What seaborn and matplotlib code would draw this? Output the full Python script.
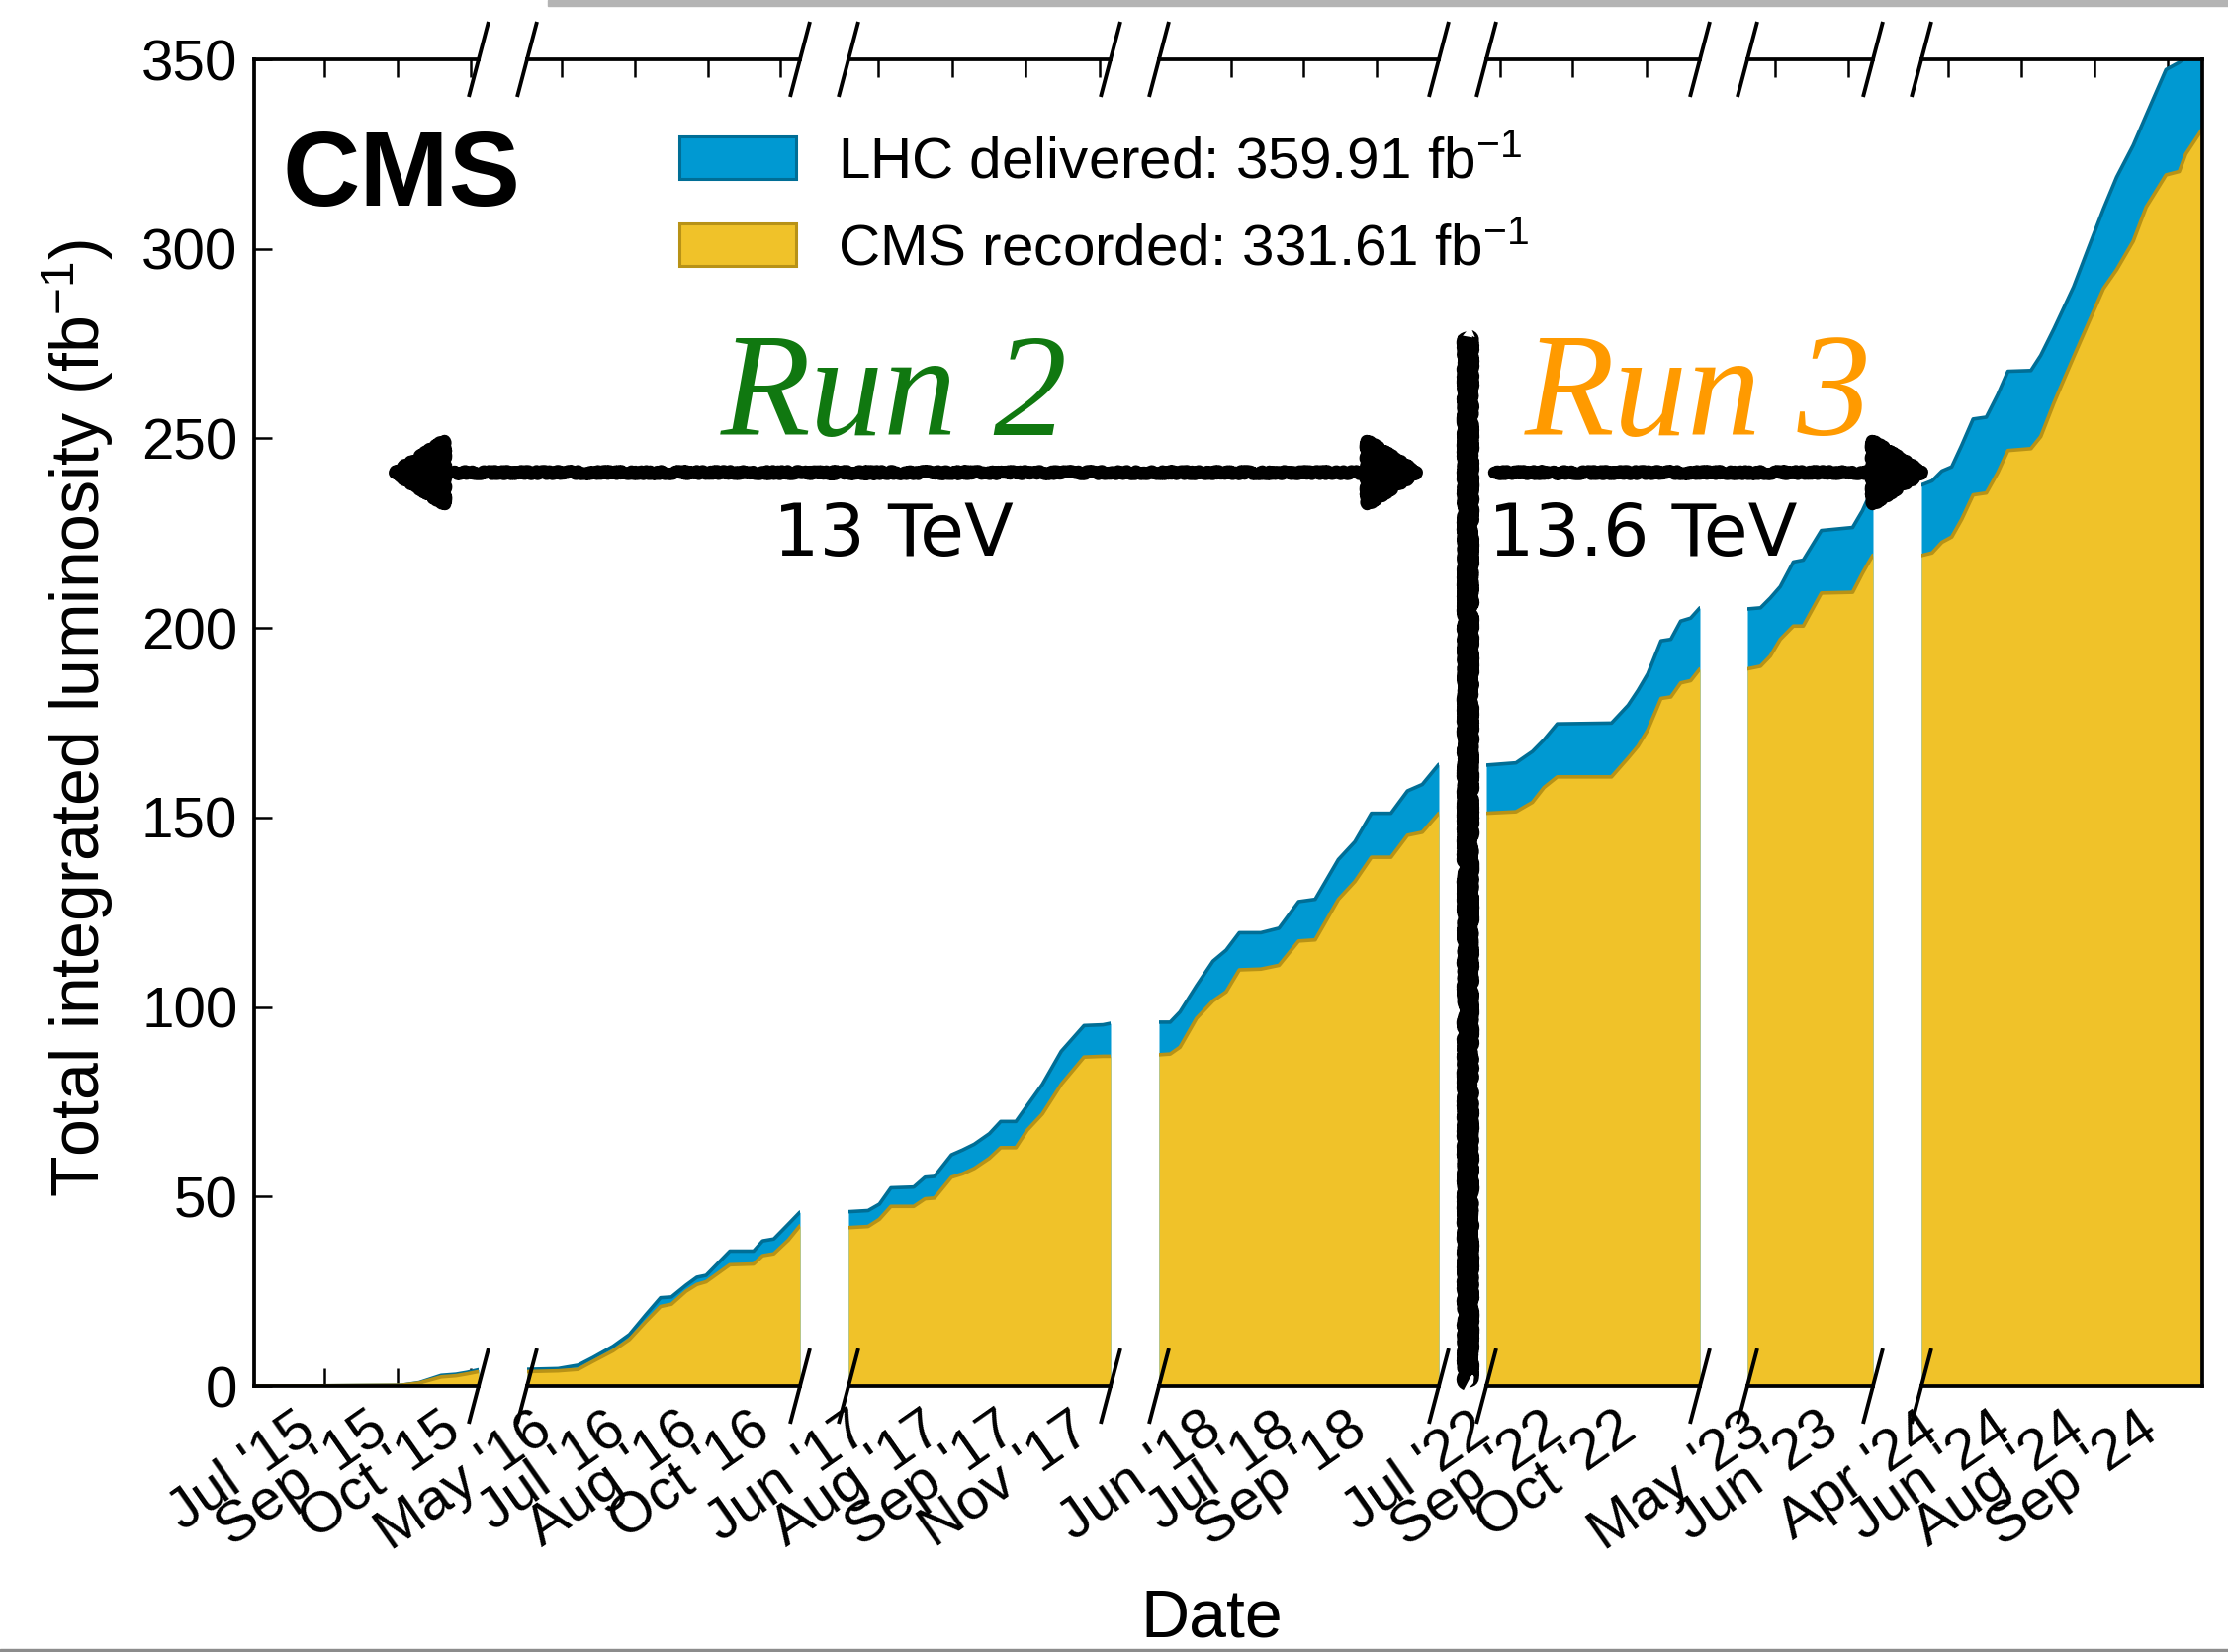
import numpy as np
import pandas as pd
import matplotlib
matplotlib.use("Agg")
import matplotlib.pyplot as plt
from matplotlib.patches import Patch, FancyArrowPatch, Rectangle
import seaborn as sns

# ---------------- data (cumulative integrated luminosity, fb^-1) ----------------
# x = position inside each year's (compressed) time segment, 0 = start, 1 = end
x_2015 = [0.0, 0.294, 0.654, 0.735, 0.833, 0.899, 0.948, 1.0]
del_2015 = [0.0, 0.05, 0.2, 0.9, 2.8, 3.1, 3.6, 4.3]
rec_2015 = [0.0, 0.05, 0.2, 0.8, 2.4, 2.7, 3.2, 3.8]

x_2016 = [0.0, 0.114, 0.187, 0.241, 0.315, 0.375, 0.435, 0.489, 0.529, 0.582,
          0.622, 0.656, 0.743, 0.830, 0.863, 0.904, 0.957, 1.0]
del_2016 = [4.4, 4.6, 5.5, 7.5, 10.5, 13.6, 18.8, 23.3, 23.5, 26.6,
            28.7, 29.2, 35.6, 35.6, 38.3, 38.8, 42.7, 45.9]
rec_2016 = [3.8, 4.0, 4.4, 6.5, 9.3, 12.3, 17.0, 21.0, 21.6, 25.0,
            26.8, 27.5, 32.0, 32.2, 34.4, 34.9, 38.5, 42.3]

x_2017 = [0.0, 0.075, 0.118, 0.162, 0.249, 0.292, 0.328, 0.393, 0.436, 0.480,
          0.538, 0.581, 0.639, 0.682, 0.740, 0.812, 0.899, 0.971, 1.0]
del_2017 = [46.0, 46.3, 48.0, 52.3, 52.5, 55.1, 55.3, 61.0, 62.3, 63.8,
            66.6, 69.8, 69.8, 74.0, 79.6, 88.3, 95.1, 95.3, 95.7]
rec_2017 = [41.8, 42.1, 44.0, 47.4, 47.4, 49.4, 49.6, 55.1, 56.0, 57.4,
            60.1, 62.9, 62.9, 67.5, 71.8, 79.6, 86.8, 87.0, 87.0]

x_2018 = [0.0, 0.040, 0.075, 0.134, 0.193, 0.240, 0.287, 0.364, 0.429, 0.499,
          0.558, 0.641, 0.700, 0.759, 0.829, 0.888, 0.941, 1.0]
del_2018 = [96.0, 96.0, 98.7, 105.6, 112.1, 115.0, 119.6, 119.6, 120.8, 127.8,
            128.4, 138.9, 143.6, 151.1, 151.1, 157.0, 158.7, 164.0]
rec_2018 = [87.4, 87.6, 89.4, 97.0, 101.6, 104.0, 109.8, 110.0, 111.0, 117.4,
            117.7, 128.4, 133.1, 139.5, 139.5, 145.3, 146.1, 151.1]

x_2022 = [0.0, 0.139, 0.216, 0.270, 0.332, 0.586, 0.664, 0.710, 0.756, 0.818,
          0.864, 0.910, 0.957, 1.0]
del_2022 = [163.8, 164.4, 167.4, 170.5, 174.7, 174.9, 179.6, 183.5, 187.9, 196.6,
            197.0, 201.8, 202.6, 205.3]
rec_2022 = [151.1, 151.5, 154.0, 157.9, 160.7, 160.7, 165.7, 168.8, 173.1, 181.4,
            181.8, 185.5, 186.1, 189.2]

x_2023 = [0.0, 0.105, 0.183, 0.262, 0.366, 0.445, 0.589, 0.838, 0.916, 0.969, 1.0]
del_2023 = [205.0, 205.3, 207.9, 210.9, 217.4, 217.9, 225.7, 226.5, 230.9, 234.8, 237.5]
rec_2023 = [189.2, 189.9, 192.6, 197.0, 200.5, 200.5, 209.2, 209.4, 214.4, 217.5, 219.2]

x_2024 = [0.0, 0.038, 0.073, 0.108, 0.143, 0.184, 0.231, 0.272, 0.308, 0.390,
          0.425, 0.472, 0.542, 0.595, 0.648, 0.695, 0.754, 0.800, 0.871, 0.918,
          0.941, 1.0]
del_2024 = [237.7, 238.8, 241.4, 242.5, 248.1, 255.1, 255.6, 261.6, 267.7, 267.9,
            271.9, 278.9, 290.0, 300.3, 310.5, 318.9, 327.3, 335.2, 347.3, 349.2,
            350.5, 359.91]
rec_2024 = [219.1, 219.8, 222.6, 224.0, 228.6, 235.1, 235.6, 241.0, 246.8, 247.3,
            250.5, 259.4, 271.5, 280.5, 289.5, 294.5, 302.0, 311.0, 319.5, 320.4,
            325.0, 331.61]

ticks_2015 = [0.313, 0.639, 0.965]
labels_2015 = ["Jul '15", "Sep '15", "Oct '15"]
ticks_2016 = [0.126, 0.395, 0.663, 0.928]
labels_2016 = ["May '16", "Jul '16", "Aug '16", "Oct '16"]
ticks_2017 = [0.115, 0.396, 0.677, 0.958]
labels_2017 = ["Jun '17", "Aug '17", "Sep '17", "Nov '17"]
ticks_2018 = [0.258, 0.516, 0.777]
labels_2018 = ["Jun '18", "Jul '18", "Sep '18"]
ticks_2022 = [0.0625, 0.403, 0.75]
labels_2022 = ["Jul '22", "Sep '22", "Oct '22"]
ticks_2023 = [0.22, 0.803]
labels_2023 = ["May '23", "Jun '23"]
ticks_2024 = [0.095, 0.356, 0.616, 0.877]
labels_2024 = ["Apr '24", "Jun '24", "Aug '24", "Sep '24"]

total_delivered = 359.91
total_recorded = 331.61
y_ticks = [0, 50, 100, 150, 200, 250, 300, 350]

segments = [
    (x_2015, del_2015, rec_2015, ticks_2015, labels_2015),
    (x_2016, del_2016, rec_2016, ticks_2016, labels_2016),
    (x_2017, del_2017, rec_2017, ticks_2017, labels_2017),
    (x_2018, del_2018, rec_2018, ticks_2018, labels_2018),
    (x_2022, del_2022, rec_2022, ticks_2022, labels_2022),
    (x_2023, del_2023, rec_2023, ticks_2023, labels_2023),
    (x_2024, del_2024, rec_2024, ticks_2024, labels_2024),
]

# ---------------- style ----------------
sns.set_style("ticks", rc={"axes.edgecolor": "black", "xtick.color": "black",
                           "ytick.color": "black", "text.color": "black",
                           "axes.labelcolor": "black"})
plt.rcParams["font.family"] = ["Liberation Sans", "DejaVu Sans"]
plt.rcParams["mathtext.fontset"] = "custom"
plt.rcParams["mathtext.rm"] = "Liberation Sans"
plt.rcParams["mathtext.it"] = "Liberation Sans:italic"
plt.rcParams["mathtext.bf"] = "Liberation Sans:bold"

BLUE, DBLUE = "#0099D2", "#006E96"
YEL, DYEL = "#F0C229", "#B89216"

W, H = 2253, 1671
fig = plt.figure(figsize=(W / 100, H / 100), dpi=100)
fig.patch.set_facecolor("white")

# segment extents in figure pixels (layout)
seg_px = [(257, 484), (533, 809), (858, 1123), (1172, 1455),
          (1503, 1719), (1767, 1894), (1943, 2227)]
ax_top, ax_bot = 60, 1402

axes = []
n = len(segments)
for i, ((l, r), (xs, dl, rc, tk, tl)) in enumerate(zip(seg_px, segments)):
    ax = fig.add_axes([l / W, 1 - ax_bot / H, (r - l) / W, (ax_bot - ax_top) / H])
    ax.set_xlim(0, 1)
    ax.set_ylim(0, 350)
    ax.fill_between(xs, 0, dl, color=BLUE, lw=0, zorder=1)
    ax.fill_between(xs, 0, rc, color=YEL, lw=0, zorder=2)
    sns.lineplot(x=xs, y=dl, ax=ax, color=DBLUE, lw=2.6, estimator=None,
                 sort=False, zorder=3)
    sns.lineplot(x=xs, y=rc, ax=ax, color=DYEL, lw=2.6, estimator=None,
                 sort=False, zorder=4)
    ax.set_xlabel("")
    ax.set_ylabel("")
    for s in ax.spines.values():
        s.set_linewidth(2.7)
        s.set_color("black")
        s.set_zorder(6)
    ax.spines["left"].set_visible(i == 0)
    ax.spines["right"].set_visible(i == n - 1)
    ax.set_xticks(tk)
    ax.set_xticklabels(tl, rotation=35, ha="right")
    ax.tick_params(axis="x", which="both", direction="in", top=True, bottom=True,
                   length=13, width=1.8, labelsize=42, pad=12)
    ax.tick_params(axis="x", which="minor", top=False, bottom=False)
    ax.set_yticks(y_ticks)
    if i == 0:
        ax.tick_params(axis="y", direction="in", left=True, right=False,
                       length=13, width=1.8, labelsize=42, pad=12)
    else:
        ax.tick_params(axis="y", left=False, right=False, labelleft=False)
    ax.patch.set_alpha(0)
    axes.append(ax)

# ---------------- overlay (pixel coordinates) ----------------
ov = fig.add_axes([0, 0, 1, 1], zorder=10)
ov.set_xlim(0, W)
ov.set_ylim(H, 0)
ov.axis("off")
ov.patch.set_alpha(0)

# break marks
for i in range(n - 1):
    xr = axes[i].get_position().x1 * W
    xl = axes[i + 1].get_position().x0 * W
    for xe in (xr, xl):
        for yb in (ax_top, ax_bot):
            ov.plot([xe - 10, xe + 10], [yb + 38, yb - 38], color="black",
                    lw=2.8, solid_capstyle="butt")

# CMS label and legend
ov.text(285, 208, "CMS", fontsize=78, fontweight="bold", ha="left", va="baseline")
handles = [Patch(facecolor=BLUE, edgecolor=DBLUE, linewidth=2.2),
           Patch(facecolor=YEL, edgecolor=DYEL, linewidth=2.2)]
labels = [r"LHC delivered: %.2f fb$^{-1}$" % total_delivered,
          r"CMS recorded: %.2f fb$^{-1}$" % total_recorded]
ov.legend(handles, labels, loc="upper left", bbox_to_anchor=(687, 138),
          bbox_transform=ov.transData, frameon=False, fontsize=42,
          handlelength=2.02, handleheight=0.755, handletextpad=0.72,
          labelspacing=0.58, borderpad=0, borderaxespad=0)

# Run annotations
ov.text(904, 440, "Run 2", fontsize=107, color="#107810", family="Liberation Serif",
        style="italic", ha="center", va="baseline")
ov.text(1717, 440, "Run 3", fontsize=107, color="#FF9A00", family="Liberation Serif",
        style="italic", ha="center", va="baseline")
ov.text(903, 562, "13 TeV", fontsize=52.5, family="DejaVu Sans", ha="center",
        va="baseline")
ov.text(1505, 562, "13.6 TeV", fontsize=52.5, family="DejaVu Sans", ha="left",
        va="baseline")

a1 = FancyArrowPatch((388, 478), (1444, 478),
                     arrowstyle="<|-|>,head_length=36,head_width=23",
                     mutation_scale=1, lw=9, color="black", shrinkA=0, shrinkB=0)
a2 = FancyArrowPatch((1511, 478), (1955, 478),
                     arrowstyle="-|>,head_length=36,head_width=23",
                     mutation_scale=1, lw=9, color="black", shrinkA=0, shrinkB=0)
for a in (a1, a2):
    a.set_sketch_params(scale=1.5, length=6, randomness=12)
    ov.add_patch(a)
vline, = ov.plot([1484, 1484], [340, 1397], color="black", lw=14,
                 solid_capstyle="butt")
vline.set_sketch_params(scale=2, length=6, randomness=12)

# axis titles
fig.text(79 / W, 1 - 726 / H, r"Total integrated luminosity (fb$^{-1}$)",
         rotation=90, fontsize=49, ha="center", va="center")
fig.text(1225 / W, 1 - 1669 / H, "Date", fontsize=49, ha="center", va="bottom")

# screenshot borders
fig.patches.append(Rectangle((554 / W, 1 - 6 / H), 1 - 554 / W, 6 / H,
                             transform=fig.transFigure, color="#b4b4b4", zorder=0))
fig.patches.append(Rectangle((0, 0), 1, 3 / H, transform=fig.transFigure,
                             color="#8c8c8c", zorder=0))

fig.savefig("out.png", dpi=100)
